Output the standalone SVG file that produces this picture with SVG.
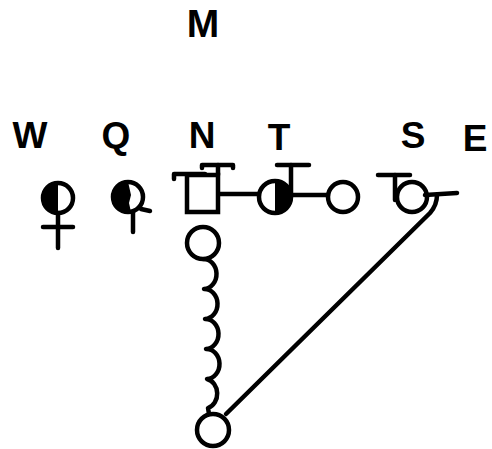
<svg xmlns="http://www.w3.org/2000/svg" width="492" height="449" viewBox="0 0 492 449">
  <style>
    .lbl { font-family: "Liberation Sans", Arial, sans-serif; font-weight: bold; font-size: 37px; fill: #000; text-anchor: middle; }
    .ln { fill: none; stroke: #000; stroke-width: 4.5; stroke-linecap: round; stroke-linejoin: round; }
    .sym { fill: #fff; stroke: #000; stroke-width: 4.5; }
    .fill { fill: #000; stroke: none; }
  </style>
  <rect width="492" height="449" fill="#fff"/>

  <!-- title -->
  <text class="lbl" x="203" y="37" style="font-size:39px">M</text>

  <!-- column labels -->
  <g id="labels">
    <text class="lbl" x="30" y="148">W</text>
    <text class="lbl" x="116" y="148">Q</text>
    <text class="lbl" x="202" y="148">N</text>
    <text class="lbl" x="279" y="150">T</text>
    <text class="lbl" x="413" y="148">S</text>
    <text class="lbl" x="475" y="151">E</text>
  </g>

  <!-- connectors -->
  <g id="connectors">
    <line class="ln" x1="219" y1="194" x2="259" y2="194"/>
    <line class="ln" x1="291" y1="195" x2="328" y2="195"/>
    <path class="ln" d="M203,259 a13,15 0 0 1 1,30 a13,15 0 0 1 1,30 a13,15 0 0 1 1,30 a13,15 0 0 1 1,30 a13,15 0 0 1 1,29 L209,414"/>
    <path class="ln" d="M437,195 Q437,205 430,213 L226,414"/>
  </g>

  <!-- W: female, left half shaded -->
  <g id="node-w">
    <circle class="sym" cx="58" cy="198" r="15"/>
    <path class="fill" d="M58,183 A15,15 0 0 0 58,213 Z"/>
    <line class="ln" x1="58" y1="213" x2="58" y2="248"/>
    <line class="ln" x1="43" y1="227" x2="73" y2="227"/>
  </g>

  <!-- Q: shaded circle with tail -->
  <g id="node-q">
    <circle class="sym" cx="128" cy="197" r="15"/>
    <path class="fill" d="M128,182 A15,15 0 0 0 128,212 L131,212 L129,203 L131,195 L129,186 Z"/>
    <line class="ln" x1="133" y1="212" x2="133" y2="232"/>
    <line class="ln" x1="141" y1="209" x2="150" y2="211"/>
  </g>

  <!-- N: square with bars -->
  <g id="node-n">
    <rect class="sym" x="187" y="175" width="31" height="37"/>
    <polyline class="ln" points="174,179 174,174 205,174"/>
    <line class="ln" x1="218" y1="175" x2="218" y2="165"/>
    <polyline class="ln" points="202,168 202,165 233,165 233,168"/>
  </g>

  <!-- T: circle, right half shaded -->
  <g id="node-t">
    <circle class="sym" cx="275" cy="197" r="16"/>
    <path class="fill" d="M275,181 A16,16 0 0 1 275,213 Z"/>
    <line class="ln" x1="291" y1="195" x2="291" y2="165"/>
    <line class="ln" x1="277" y1="165" x2="309" y2="165"/>
  </g>

  <!-- open circle right of T -->
  <g id="node-t2">
    <circle class="sym" cx="343" cy="197" r="15"/>
  </g>

  <!-- S: circle with bar and arm -->
  <g id="node-s">
    <line class="ln" x1="378" y1="175" x2="410" y2="175"/>
    <line class="ln" x1="395" y1="175" x2="395" y2="200"/>
    <circle class="sym" cx="412" cy="197" r="15"/>
    <line class="ln" x1="425" y1="195" x2="457" y2="193"/>
  </g>

  <!-- circle under N -->
  <g id="node-n2">
    <circle class="sym" cx="203" cy="243" r="16"/>
  </g>

  <!-- bottom circle -->
  <g id="node-bottom">
    <circle class="sym" cx="213" cy="430" r="16"/>
  </g>
</svg>
